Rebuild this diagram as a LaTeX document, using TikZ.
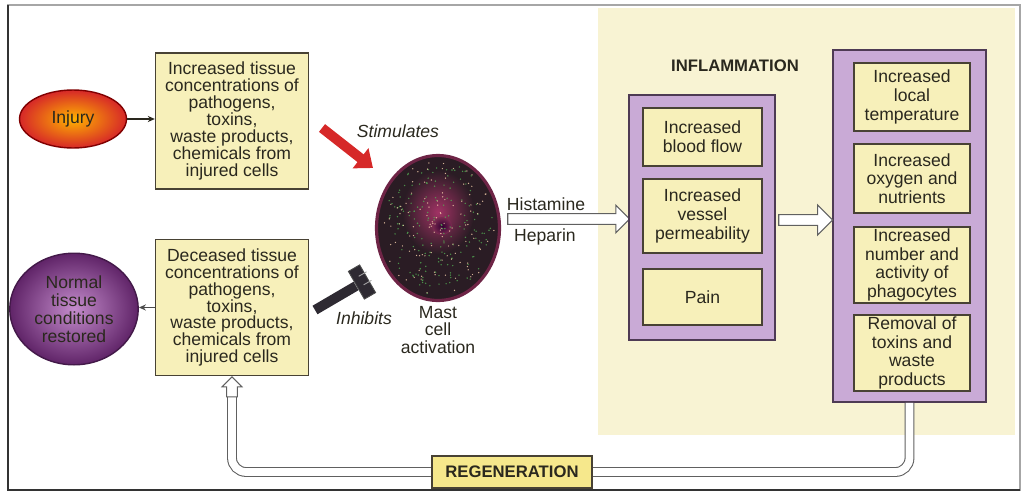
\documentclass[tikz,border=0pt]{standalone}
\usepackage{fontspec}
\setmainfont{Liberation Sans}
\usepackage{tikz}
\usetikzlibrary{arrows.meta,calc,shapes,positioning}
\usepackage{xcolor}
\definecolor{Cream}{RGB}{248,243,211}
\definecolor{BoxYellow}{RGB}{247,240,186}
\definecolor{RegenYellow}{RGB}{246,232,140}
\definecolor{Lilac}{RGB}{201,170,214}
\definecolor{LilacEdge}{RGB}{78,58,84}
\definecolor{Frame}{RGB}{72,66,52}
\definecolor{Ink}{RGB}{42,40,30}
\definecolor{MastDark}{RGB}{42,28,36}
\definecolor{MastRim}{RGB}{110,36,70}
\definecolor{Nucleus}{RGB}{160,50,100}
\definecolor{Stim}{RGB}{214,40,40}
\definecolor{Blocker}{RGB}{46,42,50}
\definecolor{NormalIn}{RGB}{196,140,204}
\definecolor{NormalOut}{RGB}{96,36,104}
\pgfdeclarelayer{front}
\pgfsetlayers{main,front}

\tikzset{
  txt/.style={text=Ink, align=center, font=\fontsize{10}{10}\selectfont},
  causebox/.style={txt, draw=Frame, fill=BoxYellow, line width=0.8pt,
    minimum width=3.06cm, minimum height=2.72cm, inner sep=1pt,
    font=\fontsize{10}{9.6}\selectfont},
  column/.style={draw=LilacEdge, fill=Lilac, line width=1pt},
  effect/.style={txt, draw=Frame, fill=BoxYellow, line width=0.8pt,
    inner sep=1pt, font=\fontsize{10}{10.6}\selectfont},
  hollow/.style={single arrow, draw=gray!75!black, fill=white,
    line width=0.6pt, inner sep=2.8pt, single arrow head extend=3.5pt},
  regenline/.style={draw=gray!75!black, line width=0.6pt, double=white,
    double distance=4.4pt, rounded corners=8pt},
  thinarrow/.style={-{Stealth[length=4pt,width=3.5pt]}, line width=0.6pt},
  stim/.style={Stim, line width=5.6pt, -{Triangle[length=9pt,width=14pt]}},
  speck/.style={fill=#1, opacity=0.8},
}

\begin{document}
\begin{tikzpicture}[x=0.02cm,y=-0.02cm]
\useasboundingbox (0,0) rectangle (1025,494);
%
% inflammation panel and frame
\fill[Cream] (598,8) rectangle (1015,435);
\draw[gray!70, line width=0.6pt] (8,5) rectangle (1020,490);
\draw[gray!40!black, line width=1.2pt] (8,5) -- (8,490) -- (1020,490);
%
% left side
\node[ellipse, draw=red!50!black, line width=0.8pt, inner color=orange!60!yellow,
  outer color=Stim, minimum width=2.14cm, minimum height=1.16cm, txt] (injury) at (73,119) {Injury};
\node[causebox] (topbox) at (232,121) {Increased tissue\\concentrations of\\pathogens,\\toxins,\\waste products,\\chemicals from\\injured cells};
\node[causebox] (botbox) at (232,307.5) {Deceased tissue\\concentrations of\\pathogens,\\toxins,\\waste products,\\chemicals from\\injured cells};
\node[ellipse, draw=NormalOut!70!black, line width=0.8pt, inner color=NormalIn,
  outer color=NormalOut, minimum width=2.12cm, minimum height=1.84cm,
  txt, font=\fontsize{10}{10.3}\selectfont] (normal) at (74,309) {Normal\\tissue\\conditions\\restored};
\draw[thinarrow, Ink] (injury.east) -- (injury.east -| topbox.west);
\draw[thinarrow, gray!60!black] (botbox.west) -- (botbox.west -| normal.east);
%
% mast cell
\node[ellipse, draw=MastRim, line width=1.8pt, fill=MastDark,
  minimum width=2.46cm, minimum height=2.9cm] (mast) at (438,228) {};
\shade[inner color=Nucleus, outer color=MastDark] (438,212) ellipse (36 and 42);
\shade[inner color=violet!40!black, outer color=Nucleus!70!MastDark] (442,226) ellipse (10 and 9);
\pgfmathsetseed{11}
\foreach \k in {1,...,170}{
  \pgfmathsetmacro\ang{360*rnd}
  \pgfmathsetmacro\rad{sqrt(rnd)}
  \fill[speck=green!35!gray] ($(mast)+({56*\rad*cos(\ang)},{67*\rad*sin(\ang)})$) circle (0.45pt);
}
\foreach \k in {1,...,120}{
  \pgfmathsetmacro\ang{360*rnd}
  \pgfmathsetmacro\rad{sqrt(rnd)}
  \fill[speck=orange!30!white] ($(mast)+({56*\rad*cos(\ang)},{67*\rad*sin(\ang)})$) circle (0.4pt);
}
\node[txt] (mastlabel) at (438,330) {Mast\\cell\\activation};
%
% stimulates / inhibits
\coordinate (stimtail) at (322,128);
\coordinate (stimtip) at (373,168);
\draw[stim] (stimtail) -- (stimtip);
\node[txt, font=\fontsize{10}{10}\itshape] (stimlabel) at (398,131) {Stimulates};
\coordinate (blocktail) at (315,310);
\coordinate (blockhead) at (356,286);
\draw[Blocker, line width=5.6pt] (blocktail) -- (blockhead);
\node[rotate=30, fill=Blocker, draw=gray!60!black, line width=0.5pt,
  minimum width=0.26cm, minimum height=0.64cm, inner sep=0pt] (blockcap) at (362,282) {};
\draw[gray!70, line width=0.5pt] ($(blockcap.north)!0.3!(blockcap.south)$) -- ++(30:0.18cm);
\draw[gray!70, line width=0.5pt] ($(blockcap.north)!0.6!(blockcap.south)$) -- ++(30:0.18cm);
\node[txt, font=\fontsize{10}{10}\itshape] (inhlabel) at (364,318) {Inhibits};
%
% histamine / heparin release
\node[hollow, minimum height=2.44cm, single arrow head extend=4.8pt] (hist) at (566,219) {};
\node[txt] (histlabel) at (546,204) {Histamine};
\node[txt] (heplabel) at (545,237) {Heparin};
%
% inflammation
\node[txt, font=\fontsize{9.5}{10}\bfseries] (inflam) at (735,66) {INFLAMMATION};
\node[column, minimum width=2.92cm, minimum height=4.9cm] (leftcol) at (702,217.5) {};
\node[column, minimum width=3.06cm, minimum height=7.04cm] (rightcol) at (909.5,226) {};
\node[effect, minimum width=2.38cm, minimum height=1.16cm] (flow) at (702.5,137) {Increased\\blood flow};
\node[effect, minimum width=2.38cm, minimum height=1.48cm] (perm) at (702.5,216) {Increased\\vessel\\permeability};
\node[effect, minimum width=2.38cm, minimum height=1.12cm] (pain) at (702.5,297) {Pain};
\node[effect, minimum width=2.32cm, minimum height=1.36cm] (temp) at (912,97) {Increased\\local\\temperature};
\node[effect, minimum width=2.32cm, minimum height=1.38cm] (oxy) at (912,178.5) {Increased\\oxygen and\\nutrients};
\node[effect, minimum width=2.32cm, minimum height=1.52cm] (phago) at (912,265) {Increased\\number and\\activity of\\phagocytes};
\node[effect, minimum width=2.32cm, minimum height=1.48cm] (removal) at (912,353) {Removal of\\toxins and\\waste\\products};
\node[hollow, minimum height=1.08cm, single arrow head extend=5.5pt] (effarrow) at (803,220) {};
%
% regeneration loop
\begin{pgfonlayer}{front}
\node[txt, draw=Frame, fill=RegenYellow, line width=0.8pt, minimum width=3.2cm,
  minimum height=0.64cm, font=\fontsize{9.5}{10}\bfseries] (regen) at (512,472) {REGENERATION};
\end{pgfonlayer}
\coordinate (loopend) at ($(botbox.south)+(0,16)$);
\draw[regenline] (rightcol.south) |- (regen.east);
\draw[regenline] (regen.west) -| (loopend);
\node[hollow, shape border rotate=90, anchor=tip, minimum height=0.4cm,
  single arrow head extend=2.5pt] (loophead) at (botbox.south) {};
\end{tikzpicture}
\end{document}
